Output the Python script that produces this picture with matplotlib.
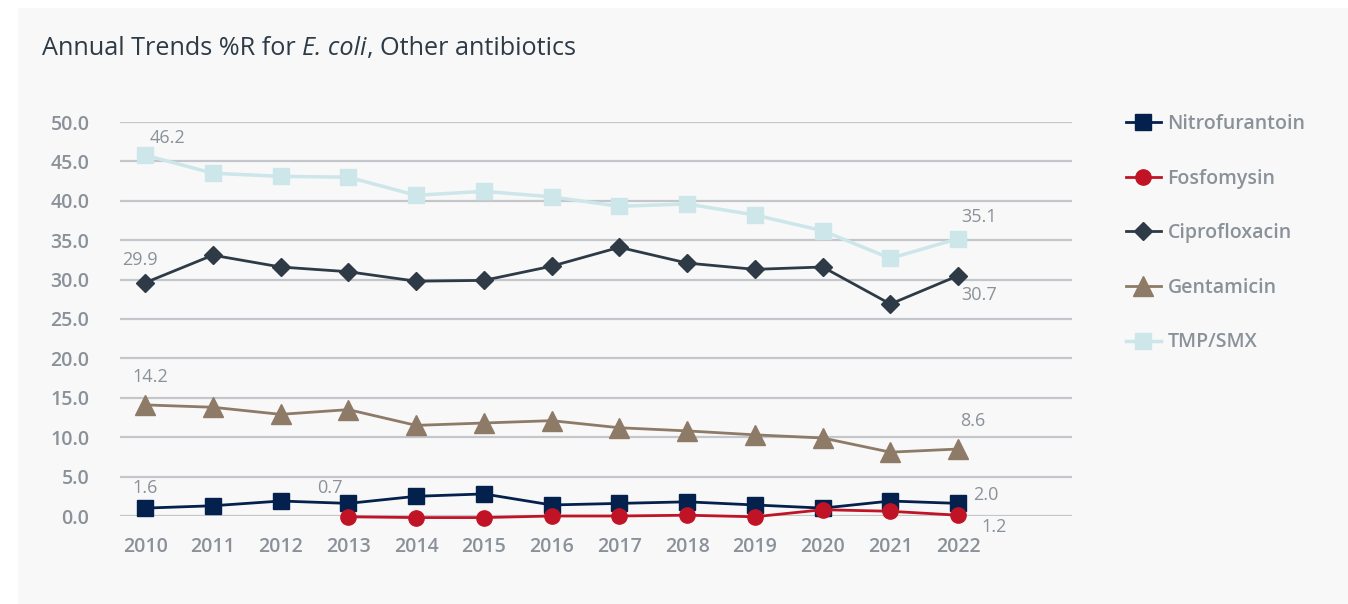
import numpy as np
import matplotlib.pyplot as plt
from matplotlib.patches import Rectangle

years = list(range(2010, 2023))
nitro = [1.0, 1.3, 1.9, 1.6, 2.5, 2.8, 1.4, 1.6, 1.8, 1.4, 1.0, 1.9, 1.6]
fosfo_years = list(range(2013, 2023))
fosfo = [-0.1, -0.2, -0.2, 0.0, 0.0, 0.1, -0.1, 0.8, 0.6, 0.1]
cipro = [29.6, 33.1, 31.6, 31.0, 29.8, 29.9, 31.7, 34.1, 32.1, 31.3, 31.6, 26.9, 30.5]
genta = [14.1, 13.8, 12.9, 13.5, 11.5, 11.8, 12.1, 11.2, 10.8, 10.3, 9.9, 8.1, 8.5]
tmp = [45.8, 43.5, 43.1, 43.0, 40.7, 41.2, 40.5, 39.3, 39.6, 38.2, 36.2, 32.7, 35.2]

# data labels: (text, x position in years, y value)
labels = [("46.2", 2010.07, 48.0), ("35.1", 2022.04, 37.9), ("29.9", 2009.66, 32.5),
          ("30.7", 2022.04, 28.0), ("14.2", 2009.81, 17.6), ("8.6", 2022.03, 12.1),
          ("1.6", 2009.81, 3.6), ("0.7", 2012.54, 3.6), ("2.0", 2022.22, 2.7),
          ("1.2", 2022.35, -1.4)]

text_gray = "#8a9199"
dark = "#2e3b46"

plt.rcParams['font.family'] = ['Open Sans', 'Noto Sans', 'DejaVu Sans']

fig = plt.figure(figsize=(13.48, 6.04), dpi=100)
fig.patch.set_facecolor("white")
fig.patches.append(Rectangle((18 / 1348, 0), 1 - 18 / 1348, 596 / 604,
                             transform=fig.transFigure, facecolor="#f8f8f8",
                             edgecolor="none", zorder=-10))

ax = fig.add_axes([120 / 1348, 88 / 604, 952 / 1348, 394 / 604])
ax.set_facecolor("none")

ax.plot(years, nitro, color="#04204d", marker="s", ms=11.5, lw=2,
        label="Nitrofurantoin", clip_on=False, zorder=4)
ax.plot(fosfo_years, fosfo, color="#c01426", marker="o", ms=11, lw=2,
        label="Fosfomysin", clip_on=False, zorder=5)
ax.plot(years, cipro, color=dark, marker="D", ms=9, lw=2,
        label="Ciprofloxacin", clip_on=False, zorder=4)
ax.plot(years, genta, color="#8d7b68", marker="^", ms=14, lw=2,
        label="Gentamicin", clip_on=False, zorder=4)
ax.plot(years, tmp, color="#cce6ea", marker="s", ms=11.5, lw=2.5,
        label="TMP/SMX", clip_on=False, zorder=3)

for txt, x, y in labels:
    ax.text(x, y, txt, color=text_gray, fontsize=13, va="center", ha="left")

ax.set_xlim(2009.63, 2023.68)
ax.set_ylim(0, 50)
ax.set_yticks(np.arange(0, 50.1, 5))
ax.set_yticklabels([f"{v:.1f}" for v in np.arange(0, 50.1, 5)])
ax.set_xticks(years)
ax.grid(axis="y", color="#c3c6ca", lw=1.6)
ax.set_axisbelow(True)
for s in ax.spines.values():
    s.set_visible(False)
ax.tick_params(length=0, colors=text_gray, labelsize=14)
ax.tick_params(axis="y", pad=22)
ax.tick_params(axis="x", pad=15)
for lab in ax.get_xticklabels() + ax.get_yticklabels():
    lab.set_fontweight(600)

t1 = fig.text(42 / 1348, 1 - 55 / 604, "Annual Trends %R for ", fontsize=18.2,
              color=dark, va="baseline", ha="left")
t2 = fig.text(0, 0, "E. coli", fontsize=18.2, color=dark, style="italic",
              va="baseline", ha="left")
t3 = fig.text(0, 0, ", Other antibiotics", fontsize=18.2, color=dark,
              va="baseline", ha="left")
fig.canvas.draw()
r = fig.canvas.get_renderer()
b1 = t1.get_window_extent(r)
t2.set_position((b1.x1 / fig.bbox.width, t1.get_position()[1]))
b2 = t2.get_window_extent(r)
t3.set_position((b2.x1 / fig.bbox.width, t1.get_position()[1]))

leg = ax.legend(loc="upper left", bbox_to_anchor=(1.038, 1.065), frameon=False,
                labelspacing=1.78, handlelength=1.8, handletextpad=0.35,
                fontsize=14, labelcolor=text_gray)
for t in leg.get_texts():
    t.set_fontweight(600)

fig.savefig("out.png", dpi=100)
